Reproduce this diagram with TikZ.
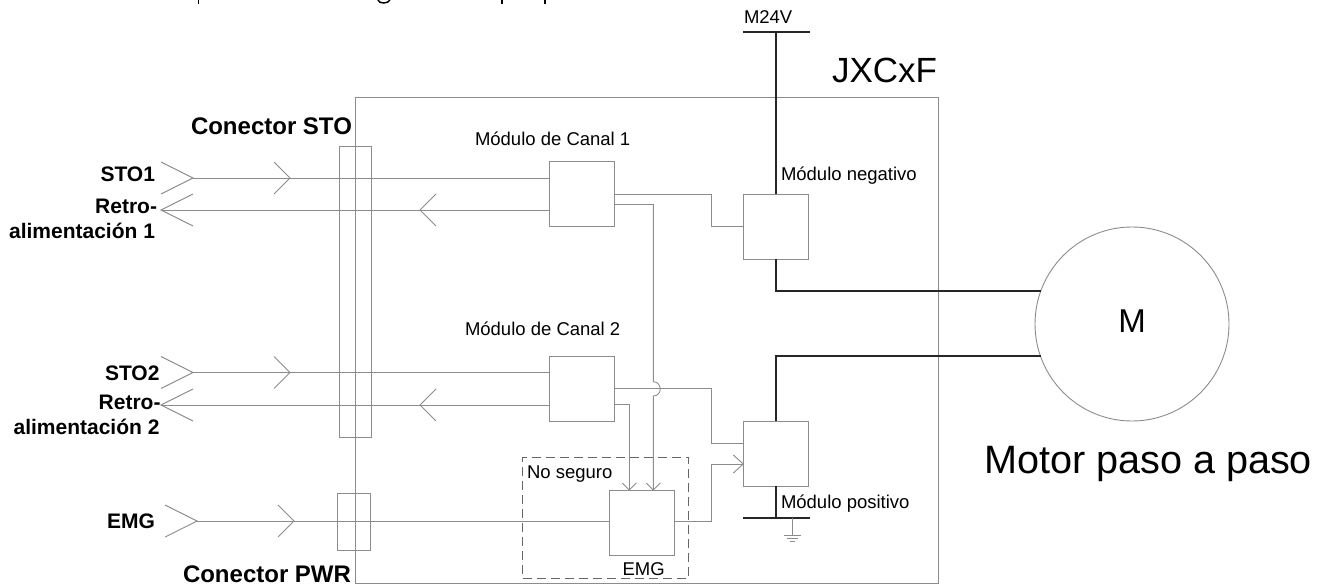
\documentclass[tikz,border=0pt]{standalone}
\usepackage{fontspec}
\setmainfont{Liberation Sans}
\usetikzlibrary{calc}
\definecolor{wire}{gray}{0.55}
\tikzset{
  x=1pt,y=-1pt,
  every node/.style={outer sep=0pt},
  wireline/.style={draw=wire,line width=0.9pt,line join=miter},
  power/.style={draw=black!85,line width=1.8pt},
  framebox/.style={draw=wire,line width=0.9pt,inner sep=0pt,anchor=north west},
  blockbox/.style={framebox,minimum width=65pt,minimum height=65pt},
  lab/.style={inner sep=0pt,anchor=base west,font=\fontsize{18.5}{22}\selectfont,text=black},
  blab/.style={inner sep=0pt,anchor=base east,font=\fontsize{21}{25}\selectfont\bfseries,text=black},
  conlab/.style={inner sep=0pt,anchor=base west,font=\fontsize{24}{28}\selectfont\bfseries,text=black},
}
\newcommand{\chevR}[1]{\draw[wireline] ($(#1)+(-16,-16)$) -- (#1) -- ($(#1)+(-16,16)$);}
\newcommand{\chevL}[1]{\draw[wireline] ($(#1)+(16,-16)$) -- (#1) -- ($(#1)+(16,16)$);}
\newcommand{\chevW}[1]{\draw[wireline] ($(#1)+(-32,-16)$) -- (#1) -- ($(#1)+(-32,16)$);}
\newcommand{\chevWL}[1]{\draw[wireline] ($(#1)+(32,-16)$) -- (#1) -- ($(#1)+(32,16)$);}
\begin{document}
\begin{tikzpicture}
\useasboundingbox (0,0) rectangle (1327,585);
% clipped descenders of the cut-off line at the top edge
\draw[black,line width=1.6pt] (198.5,0) -- (198.5,4);
\draw[black,line width=1.6pt] (502,0) -- (502,4);
\draw[black,line width=1.6pt] (545,0) -- (545,4);
\draw[black,line width=1.5pt] (378,0) .. controls (379,4) and (388,4) .. (390,0);
% housings
\node[framebox,minimum width=583pt,minimum height=486pt] (jxc) at (355,97) {};
\node[framebox,minimum width=32pt,minimum height=291pt] (sto) at (339,146) {};
\node[framebox,minimum width=33pt,minimum height=57pt] (pwr) at (337,493.5) {};
\node[framebox,draw=black!60,dash pattern=on 9pt off 5pt,minimum width=166pt,minimum height=120.5pt] (nos) at (522.7,457.7) {};
% blocks
\node[blockbox] (c1) at (549.3,161.5) {};
\node[blockbox] (c2) at (549.3,356) {};
\node[blockbox] (neg) at (743.3,194) {};
\node[blockbox] (pos) at (743.3,421) {};
\node[blockbox] (emg) at (609.3,490) {};
\node[draw=wire,line width=0.9pt,circle,minimum size=194pt,inner sep=0pt] (mot) at (1132,324) {};
% free ends
\coordinate (s1) at (193,178);
\coordinate (r1) at (161,210);
\coordinate (s2) at (193,372.5);
\coordinate (r2) at (161,405);
\coordinate (e0) at (197,521);
\coordinate (bus24) at (775.8,32);
\coordinate (busg) at (775.8,518);
% left signal wires
\draw[wireline] (s1) -- (s1 -| c1.west);
\draw[wireline] (r1) -- (r1 -| c1.west);
\draw[wireline] (s2) -- (s2 -| c2.west);
\draw[wireline] (r2) -- (r2 -| c2.west);
\draw[wireline] (e0) -- (e0 -| emg.west);
% chevrons
\chevW{s1}
\chevWL{r1}
\chevW{s2}
\chevWL{r2}
\chevW{e0}
\coordinate (a1) at (290,178); \chevR{a1}
\coordinate (a2) at (420,210); \chevL{a2}
\coordinate (a3) at (290,372.5); \chevR{a3}
\coordinate (a4) at (420,405); \chevL{a4}
\coordinate (a5) at (294,521); \chevR{a5}
% channel 1 outputs
\coordinate (c1b) at (614.3,204.5);
\coordinate (emgb) at (653.3,490);
\coordinate (emga) at (629.3,490);
\draw[wireline] (c1.east) -- (711,194) -- (711,226.5) -- (neg.west);
\draw[wireline] (c1b) -- (653.3,204.5) -- (653.3,381.7)
  .. controls (662.5,382) and (662.5,396) .. (653.3,396) -- (emgb);
% channel 2 outputs
\draw[wireline] (c2.east) -- (711,388.5) -- (711,443.7) -- (743.3,443.7);
\draw[wireline] (614.3,404) -- (629.3,404) -- (emga);
% arrows into EMG
\draw[wireline] ($(emga)+(-7,-7)$) -- (emga) -- ($(emga)+(7,-7)$);
\draw[wireline] ($(emgb)+(-7,-7)$) -- (emgb) -- ($(emgb)+(7,-7)$);
% EMG to positive
\coordinate (posin) at (743.3,464);
\draw[wireline] (e0 -| emg.east) -- (711,521) -- (711,464) -- (posin);
\draw[wireline] ($(posin)+(-10,-9)$) -- (posin) -- ($(posin)+(-10,9)$);
% power wires
\draw[power] (743,32) -- (809.5,32);
\draw[power] (bus24) -- (neg.north);
\draw[power] (neg.south) -- (775.8,291) -- (1041,291);
\draw[power] (pos.north) -- (775.8,356) -- (1041,356);
\draw[power] (pos.south) -- (busg);
\draw[power] (743,518) -- (809.5,518);
% ground
\draw[wireline] (792,518) -- (792,535);
\draw[wireline] (784,535) -- (800.5,535);
\draw[wireline] (787,538.4) -- (797.5,538.4);
\draw[wireline] (789.5,541.5) -- (794.5,541.5);
% texts
\node[lab] (t1) at (475,146) {Módulo de Canal 1};
\node[lab] (t2) at (465,335) {Módulo de Canal 2};
\node[lab] (t3) at (781,181) {Módulo negativo};
\node[lab] (t4) at (781,508) {Módulo positivo};
\node[lab] (t5) at (527,478) {No seguro};
\node[lab] (t6) at (622.5,575) {EMG};
\node[lab] (t7) at (744,24) {M24V};
\node[inner sep=0pt,anchor=base west,font=\fontsize{35}{40}\selectfont] (t8) at (832,83) {JXCxF};
\node[inner sep=0pt,anchor=base,font=\fontsize{33}{36}\selectfont] (t9) at (1132,332) {M};
\node[inner sep=0pt,anchor=base west,font=\fontsize{39.6}{46}\selectfont] (t10) at (984,473) {Motor paso a paso};
\node[conlab] (t11) at (191,135) {Conector STO};
\node[conlab] (t12) at (183,582) {Conector PWR};
\node[blab] (t13) at (155,182) {STO1};
\node[blab] (t14) at (157,214) {Retro-};
\node[blab] (t15) at (155,239) {alimentación 1};
\node[blab] (t16) at (159.5,380) {STO2};
\node[blab] (t17) at (160.5,409) {Retro-};
\node[blab] (t18) at (159.5,434) {alimentación 2};
\node[blab] (t19) at (155,528) {EMG};
\end{tikzpicture}
\end{document}
